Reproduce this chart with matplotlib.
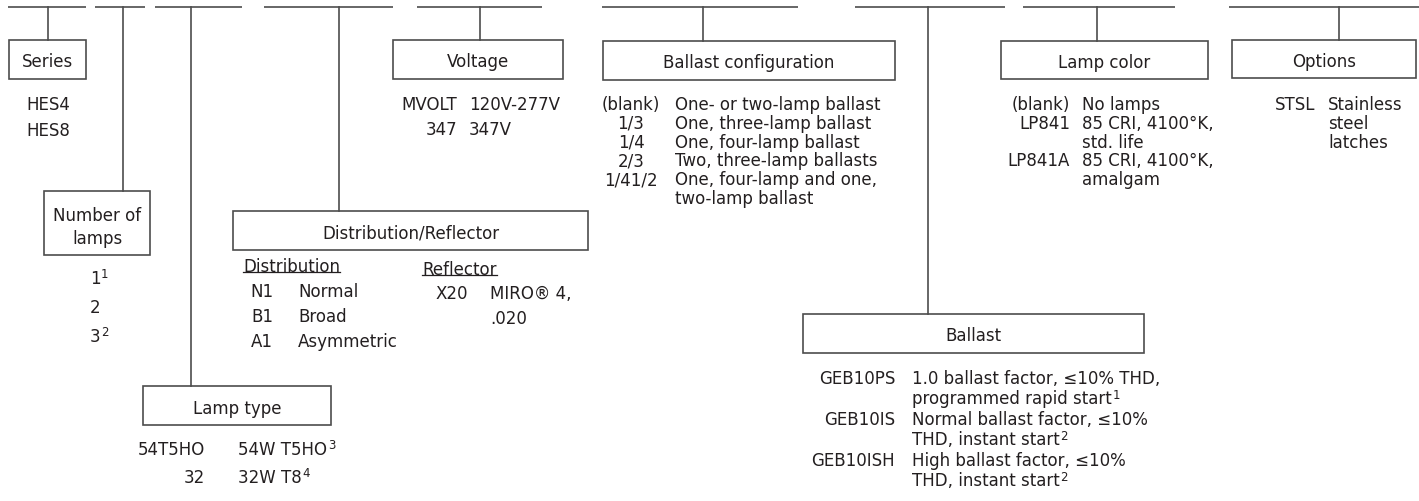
"""Ordering-information chart for the HES fixture, redrawn with matplotlib."""
import matplotlib
matplotlib.use("Agg")
import matplotlib.pyplot as plt
from matplotlib.patches import Rectangle

# chart content
series_codes = ["HES4", "HES8"]

lamp_counts = ["1", "2", "3"]
lamp_count_notes = ["1", "", "2"]

lamp_type_codes = ["54T5HO", "32"]
lamp_type_descs = ["54W T5HO", "32W T8"]
lamp_type_notes = ["3", "4"]

distribution_codes = ["N1", "B1", "A1"]
distribution_descs = ["Normal", "Broad", "Asymmetric"]

reflector_codes = ["X20"]
reflector_descs = ["MIRO® 4,\n.020"]

voltage_codes = ["MVOLT", "347"]
voltage_descs = ["120V-277V", "347V"]

config_codes = ["(blank)", "1/3", "1/4", "2/3", "1/41/2"]
config_descs = [
    "One- or two-lamp ballast",
    "One, three-lamp ballast",
    "One, four-lamp ballast",
    "Two, three-lamp ballasts",
    "One, four-lamp and one,\ntwo-lamp ballast",
]

ballast_codes = ["GEB10PS", "GEB10IS", "GEB10ISH"]
ballast_descs = [
    "1.0 ballast factor, ≤10% THD,\nprogrammed rapid start",
    "Normal ballast factor, ≤10%\nTHD, instant start",
    "High ballast factor, ≤10%\nTHD, instant start",
]
ballast_notes = ["1", "2", "2"]

color_codes = ["(blank)", "LP841", "LP841A"]
color_descs = ["No lamps", "85 CRI, 4100°K,\nstd. life", "85 CRI, 4100°K,\namalgam"]

option_codes = ["STSL"]
option_descs = ["Stainless\nsteel\nlatches"]

TEXT = "#231f20"
LINE = "#4d4d4d"
FS = 12
NOTE_FS = 8.5


def note(ax, artist, label):
    """Attach a superscript footnote to the right of a text artist."""
    if label:
        ax.annotate(label, xy=(1, 1), xycoords=artist, xytext=(0.6, 1.2),
                    textcoords="offset points", ha="left", va="top",
                    fontsize=NOTE_FS, color=TEXT)


def put(ax, x, y, s, ha="left"):
    return ax.text(x, y, s, ha=ha, va="center_baseline", fontsize=FS, color=TEXT)


def field(ax, seg, stem, box, title, title_ys):
    """Draw the blank line, its stem and the titled box below it."""
    ax.plot(seg, [8, 8], color=LINE, lw=1.2, solid_capstyle="butt")
    x0, x1, y0, y1 = box
    ax.plot([stem, stem], [8, y0], color=LINE, lw=1.2)
    ax.add_patch(Rectangle((x0, y0), x1 - x0, y1 - y0, fill=False,
                           edgecolor=LINE, lw=1.2))
    for line, ty in zip(title.split("\n"), title_ys):
        put(ax, (x0 + x1) / 2, ty, line, ha="center")


def rows(ax, codes, descs, y0, step, code_x, desc_x, code_ha="right", notes=None):
    """Write code / description rows; descriptions may wrap with \\n."""
    row = 0
    for i, code in enumerate(codes):
        put(ax, code_x, y0 + row * step, code, ha=code_ha)
        lines = descs[i].split("\n") if descs else [""]
        last = None
        for j, line in enumerate(lines):
            if line:
                last = put(ax, desc_x, y0 + (row + j) * step, line)
        if notes and last is not None:
            note(ax, last, notes[i])
        row += len(lines)


def underline(ax, fig, artist, y):
    fig.canvas.draw()
    bb = artist.get_window_extent().transformed(ax.transData.inverted())
    ax.plot([bb.x0, bb.x1], [y, y], color=TEXT, lw=0.9)


def main():
    fig = plt.figure(figsize=(14.19, 5.02), dpi=100)
    ax = fig.add_axes([0, 0, 1, 1])
    ax.set_xlim(0, 1419)
    ax.set_ylim(502, 0)
    ax.axis("off")

    field(ax, [8, 86], 48, (9, 86, 41, 80), "Series", [60])
    rows(ax, series_codes, None, 103, 26, 26, 0, code_ha="left")

    field(ax, [95, 145], 123, (44, 150, 192, 256), "Number of\nlamps", [214, 237])
    for i, n in enumerate(lamp_counts):
        t = put(ax, 95, 277 + i * 29, n, ha="center")
        note(ax, t, lamp_count_notes[i])

    field(ax, [155, 242], 191, (143, 331, 387, 426), "Lamp type", [407])
    rows(ax, lamp_type_codes, lamp_type_descs, 448, 28, 205, 238,
         notes=lamp_type_notes)

    field(ax, [264, 393], 339, (233, 588, 212, 251), "Distribution/Reflector", [232])
    t = put(ax, 243, 265, "Distribution")
    underline(ax, fig, t, 273)
    rows(ax, distribution_codes, distribution_descs, 290, 25, 273, 298)
    t = put(ax, 422, 268, "Reflector")
    underline(ax, fig, t, 276)
    rows(ax, reflector_codes, reflector_descs, 292, 25, 468, 490)

    field(ax, [417, 542], 480, (393, 563, 41, 80), "Voltage", [60])
    rows(ax, voltage_codes, voltage_descs, 103, 25, 457, 469)

    field(ax, [602, 798], 703, (603, 895, 42, 81), "Ballast configuration", [61])
    rows(ax, config_codes, config_descs, 103, 18.8, 631, 675, code_ha="center")

    field(ax, [855, 1005], 928, (803, 1144, 315, 354), "Ballast", [334])
    rows(ax, ballast_codes, ballast_descs, 377, 20.5, 895, 912, notes=ballast_notes)

    field(ax, [1023, 1175], 1097, (1001, 1208, 42, 80), "Lamp color", [61])
    rows(ax, color_codes, color_descs, 103, 18.8, 1070, 1082)

    field(ax, [1229, 1419], 1339, (1232, 1416, 41, 79), "Options", [60])
    rows(ax, option_codes, option_descs, 103, 18.8, 1315, 1328)

    fig.savefig("out.png", dpi=100)
    plt.close(fig)


if __name__ == "__main__":
    main()
